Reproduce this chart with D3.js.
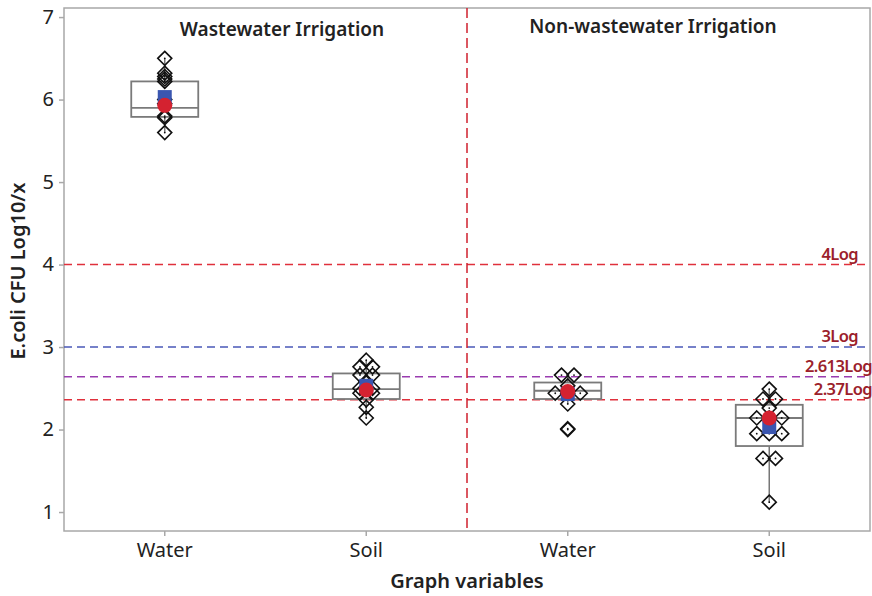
<!DOCTYPE html>
<html>
<head>
<meta charset="utf-8">
<title>E.coli boxplot</title>
<style>
  body { margin: 0; background: #fff; }
  svg text { font-family: "Noto Sans", "Open Sans", sans-serif; fill: #222; }
</style>
<script src="https://d3js.org/d3.v7.min.js"></script>
</head>
<body>
<svg id="chart" width="872" height="596"></svg>
<script>
// categories
var groups = ["WW Water", "WW Soil", "NW Water", "NW Soil"];
var tickLabels = ["Water", "Soil", "Water", "Soil"];
var panelTitles = ["Wastewater Irrigation", "Non-wastewater Irrigation"];

// box stats
var q1 = [5.79, 2.37, 2.37, 1.80];
var median = [5.90, 2.49, 2.47, 2.14];
var q3 = [6.22, 2.68, 2.57, 2.30];
var whiskerLow = [5.60, 2.14, 2.31, 1.12];
var whiskerHigh = [6.50, 2.84, 2.66, 2.49];

// individual values
var points = [
  [6.50, 6.32, 6.28, 6.25, 6.22, 6.00, 5.95, 5.80, 5.78, 5.60],
  [2.84, 2.76, 2.76, 2.66, 2.66, 2.58, 2.50, 2.50, 2.44, 2.44, 2.36, 2.27, 2.14],
  [2.66, 2.66, 2.53, 2.44, 2.44, 2.44, 2.31, 2.01, 2.00],
  [2.49, 2.37, 2.37, 2.26, 2.14, 2.14, 2.14, 1.95, 1.95, 1.95, 1.65, 1.65, 1.12]
];

// mean symbols
var blueMean = [6.03, 2.53, 2.43, 2.03];
var redMean = [5.93, 2.48, 2.46, 2.14];

// reference lines
var refValues = [4, 3, 2.64, 2.36];
var refLabels = ["4Log", "3Log", "2.613Log", "2.37Log"];
var refColors = ["#e0303c", "#4a58b8", "#9a3cb0", "#e0303c"];

var yTicks = [1, 2, 3, 4, 5, 6, 7];

var svg = d3.select("#chart");
var pLeft = 64, pRight = 870, pTop = 8, pBottom = 531;

var x = d3.scaleBand().domain(groups).range([pLeft, pRight]);
var y = d3.scaleLinear().domain([0.77, 7.11]).range([pBottom, pTop]);
var cx = function(i) { return x(groups[i]) + x.bandwidth() / 2; };

// frame
svg.append("rect")
  .attr("x", pLeft).attr("y", pTop)
  .attr("width", pRight - pLeft).attr("height", pBottom - pTop)
  .attr("fill", "none").attr("stroke", "#a8a8a8").attr("stroke-width", 1.5);

// axes
var yAxis = svg.append("g").attr("transform", "translate(" + pLeft + ",0)")
  .call(d3.axisLeft(y).tickValues(yTicks).tickFormat(d3.format("d")).tickSize(5).tickPadding(5));
var xAxis = svg.append("g").attr("transform", "translate(0," + pBottom + ")")
  .call(d3.axisBottom(x).tickFormat(function(d, i) { return tickLabels[i]; }).tickSize(5).tickPadding(7));
[yAxis, xAxis].forEach(function(g) {
  g.select(".domain").remove();
  g.selectAll("line").attr("stroke", "#a8a8a8").attr("stroke-width", 1.5);
  g.selectAll("text").style("font-size", "20px").style("font-family", "Noto Sans").attr("fill", "#222");
});

// reference lines
svg.selectAll(".ref").data(refValues).enter().append("line")
  .attr("x1", pLeft).attr("x2", pRight)
  .attr("y1", function(d) { return y(d); }).attr("y2", function(d) { return y(d); })
  .attr("stroke", function(d, i) { return refColors[i]; })
  .attr("stroke-width", 1.5).attr("stroke-dasharray", "8,5");

svg.selectAll(".reflab").data(refValues).enter().append("text")
  .attr("x", function(d, i) { return i < 2 ? 858 : 872; })
  .attr("y", function(d) { return y(d) - 5; })
  .attr("text-anchor", "end")
  .style("font-size", "16.5px").style("font-weight", 600)
  .style("letter-spacing", "-0.6px")
  .style("fill", "#9c1f2c")
  .text(function(d, i) { return refLabels[i]; });

// panel divider
var mid = x(groups[2]);
svg.append("line")
  .attr("x1", mid).attr("x2", mid).attr("y1", pTop).attr("y2", pBottom)
  .attr("stroke", "#d0202e").attr("stroke-width", 1.5).attr("stroke-dasharray", "10,5");

// panel titles
svg.selectAll(".ptitle").data(panelTitles).enter().append("text")
  .attr("x", function(d, i) { return i === 0 ? 282 : 653; })
  .attr("y", function(d, i) { return i === 0 ? 36 : 33; })
  .attr("text-anchor", "middle")
  .style("font-size", "19px").style("font-weight", 600)
  .text(function(d) { return d; });

// boxes
var boxW = 67;
var box = svg.selectAll(".box").data(groups).enter().append("g");
box.append("line")
  .attr("x1", function(d, i) { return cx(i); }).attr("x2", function(d, i) { return cx(i); })
  .attr("y1", function(d, i) { return y(whiskerLow[i]); })
  .attr("y2", function(d, i) { return y(whiskerHigh[i]); })
  .attr("stroke", "#777").attr("stroke-width", 1.5);
box.append("rect")
  .attr("x", function(d, i) { return cx(i) - boxW / 2; })
  .attr("y", function(d, i) { return y(q3[i]); })
  .attr("width", boxW)
  .attr("height", function(d, i) { return y(q1[i]) - y(q3[i]); })
  .attr("fill", "#fff").attr("stroke", "#7a7a7a").attr("stroke-width", 1.8);
box.append("line")
  .attr("x1", function(d, i) { return cx(i) - boxW / 2; })
  .attr("x2", function(d, i) { return cx(i) + boxW / 2; })
  .attr("y1", function(d, i) { return y(median[i]); })
  .attr("y2", function(d, i) { return y(median[i]); })
  .attr("stroke", "#7a7a7a").attr("stroke-width", 1.8);

// individual values, equal values dodged sideways
var dodge = 12.5, r = 7;
points.forEach(function(vals, gi) {
  var counts = d3.rollup(vals, function(v) { return v.length; }, function(v) { return v; });
  var seen = new Map();
  vals.forEach(function(v) {
    var n = counts.get(v), k = seen.get(v) || 0;
    seen.set(v, k + 1);
    var px = cx(gi) + (k - (n - 1) / 2) * dodge, py = y(v);
    svg.append("path")
      .attr("d", "M" + px + "," + (py - r) + "L" + (px + r) + "," + py + "L" + px + "," + (py + r) + "L" + (px - r) + "," + py + "Z")
      .attr("fill", "none").attr("stroke", "#111").attr("stroke-width", 1.6);
    svg.append("circle").attr("cx", px).attr("cy", py).attr("r", 0.9).attr("fill", "#111");
  });
});

// mean symbols
svg.selectAll(".bmean").data(blueMean).enter().append("rect")
  .attr("x", function(d, i) { return cx(i) - 7; })
  .attr("y", function(d) { return y(d) - 7; })
  .attr("width", 14).attr("height", 14)
  .attr("fill", "#3a56b0");
svg.selectAll(".rmean").data(redMean).enter().append("circle")
  .attr("cx", function(d, i) { return cx(i); })
  .attr("cy", function(d) { return y(d); })
  .attr("r", 7.5)
  .attr("fill", "#d42230");

// axis titles
svg.append("text")
  .attr("transform", "translate(25," + 271 + ") rotate(-90)")
  .attr("text-anchor", "middle")
  .style("font-size", "20px").style("font-weight", 600)
  .text("E.coli CFU Log10/x");
svg.append("text")
  .attr("x", 467).attr("y", 588)
  .attr("text-anchor", "middle")
  .style("font-size", "20px").style("font-weight", 600)
  .text("Graph variables");
</script>
</body>
</html>
